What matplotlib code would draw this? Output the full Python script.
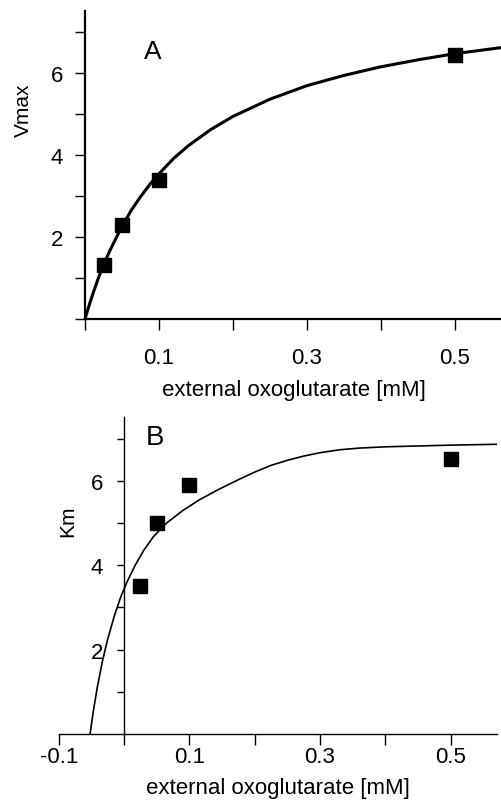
import matplotlib
matplotlib.use("Agg")
import matplotlib.pyplot as plt

plt.rcParams['font.family'] = ['Liberation Sans', 'DejaVu Sans']

# Panel A data (Vmax)
conc = [0.025, 0.05, 0.1, 0.5]
vmax_vals = [1.32, 2.28, 3.40, 6.43]
# fitted curve
curve_a_x = [0.0, 0.005, 0.01, 0.0175, 0.025, 0.035, 0.05, 0.0625, 0.075, 0.0875, 0.1, 0.12, 0.14,
             0.17, 0.2, 0.25, 0.3, 0.35, 0.4, 0.45, 0.5, 0.5635]
curve_a_y = [0.0, 0.30, 0.58, 0.97, 1.32, 1.72, 2.26, 2.65, 2.98, 3.28, 3.54, 3.92, 4.23,
             4.62, 4.94, 5.36, 5.69, 5.94, 6.15, 6.32, 6.47, 6.62]

# Panel B data (Km)
km_vals = [3.50, 5.00, 5.90, 6.53]
curve_b_x = [-0.052, -0.047, -0.041, -0.033, -0.025, -0.015, -0.005, 0.005, 0.017, 0.03, 0.045,
             0.065, 0.09, 0.115, 0.145, 0.175, 0.2, 0.225, 0.25, 0.275, 0.3, 0.33, 0.36, 0.4,
             0.45, 0.5, 0.57]
curve_b_y = [0.0, 0.54, 1.10, 1.73, 2.25, 2.79, 3.25, 3.62, 4.00, 4.35, 4.68,
             5.00, 5.30, 5.55, 5.80, 6.03, 6.21, 6.37, 6.49, 6.59, 6.67, 6.74, 6.78, 6.81,
             6.83, 6.85, 6.87]

xticks_a = [0.0, 0.1, 0.2, 0.3, 0.4, 0.5]
xticklabels_a = ['', '0.1', '', '0.3', '', '0.5']
xticks_b = [-0.1, 0.0, 0.1, 0.2, 0.3, 0.4, 0.5]
xticklabels_b = ['-0.1', '', '0.1', '', '0.3', '', '0.5']
yticks = [0, 1, 2, 3, 4, 5, 6, 7]
yticklabels = ['', '', '2', '', '4', '', '6', '']
xlabel = 'external oxoglutarate [mM]'

W, H = 502, 804
fig = plt.figure(figsize=(W / 100, H / 100), dpi=100)

# ---------- Panel A ----------
axA = fig.add_axes([85 / W, 1 - 320 / H, (502 - 85) / W, (320 - 12) / H])
axA.plot(curve_a_x, curve_a_y, color='black', lw=2.2, solid_capstyle='butt', clip_on=False)
axA.plot(conc, vmax_vals, 's', color='black', ms=10)
axA.set_xlim(0, 0.5635)
axA.set_ylim(0, 7.51)
for s in ['top', 'right']:
    axA.spines[s].set_visible(False)
axA.spines['left'].set_linewidth(1.6)
axA.spines['bottom'].set_linewidth(1.6)
axA.set_xticks(xticks_a)
axA.set_xticklabels(xticklabels_a)
axA.set_yticks(yticks)
axA.set_yticklabels(yticklabels)
axA.tick_params(axis='x', length=8, width=1.0, pad=12, labelsize=16)
axA.tick_params(axis='y', length=7, width=1.0, pad=9, labelsize=16)
axA.set_xlabel(xlabel, fontsize=16, labelpad=8)
axA.set_ylabel('Vmax', fontsize=15)
axA.yaxis.set_label_coords(-(85 - 33) / (502 - 85), 0.682)
axA.text((153 - 85) / (502 - 85), (320 - 52) / (320 - 12), 'A', transform=axA.transAxes,
         fontsize=19, ha='center', va='center')

# ---------- Panel B ----------
left_b = 58.7
right_b = 497
axB = fig.add_axes([left_b / W, 1 - 735 / H, (right_b - left_b) / W, (735 - 418.3) / H])
axB.plot(curve_b_x, curve_b_y, color='black', lw=1.2)
axB.plot(conc, km_vals, 's', color='black', ms=10)
axB.set_xlim(-0.1, 0.571)
axB.set_ylim(0, 7.51)
for s in ['top', 'right']:
    axB.spines[s].set_visible(False)
axB.spines['left'].set_position(('data', 0))
axB.spines['left'].set_linewidth(1.0)
axB.spines['bottom'].set_linewidth(1.0)
axB.set_xticks(xticks_b)
axB.set_xticklabels(xticklabels_b)
axB.set_yticks(yticks[1:])
axB.set_yticklabels(yticklabels[1:])
axB.tick_params(axis='x', length=8, width=1.0, pad=1, labelsize=16)
axB.tick_params(axis='y', length=5, width=1.0, pad=10, labelsize=16)
axB.set_xlabel(xlabel, fontsize=16, labelpad=7)
axB.set_ylabel('Km', fontsize=15)
axB.yaxis.set_label_coords((77 - left_b) / (right_b - left_b), 0.676)
axB.text((155 - left_b) / (right_b - left_b), (735 - 438) / (735 - 418.3), 'B',
         transform=axB.transAxes, fontsize=20, ha='center', va='center')

fig.savefig('out.png', dpi=100)
